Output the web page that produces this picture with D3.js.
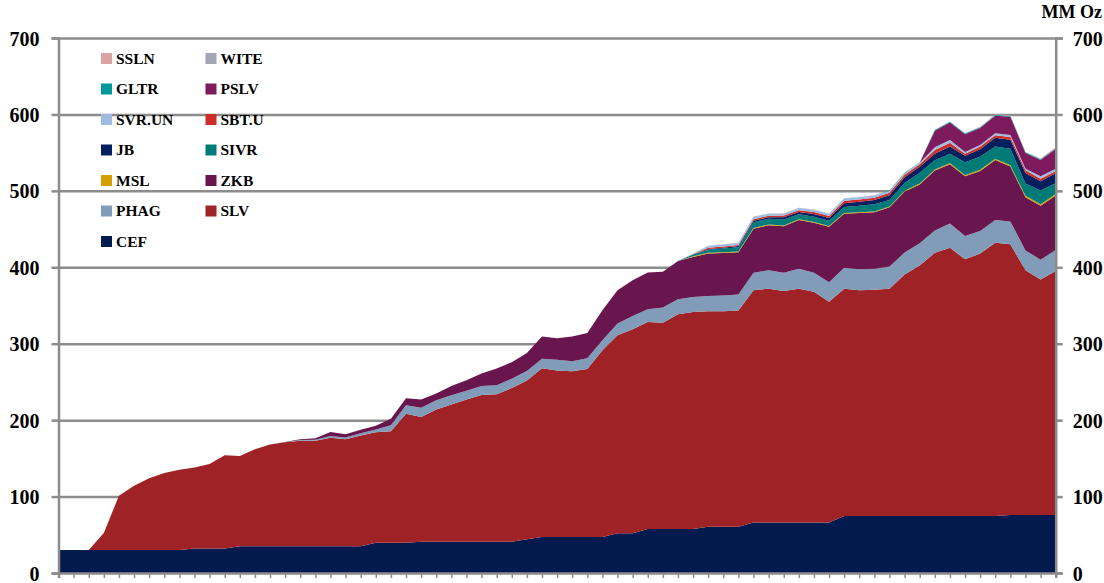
<!DOCTYPE html>
<html>
<head>
<meta charset="utf-8">
<script src="https://cdn.jsdelivr.net/npm/d3@7/dist/d3.min.js"></script>
<style>
  body { margin: 0; background: #fff; }
  svg { display: block; }
  .tick-label { font-family: "Liberation Serif", "Times New Roman", serif; font-weight: bold; font-size: 20px; fill: #000; }
  .legend-label { font-family: "Liberation Serif", "Times New Roman", serif; font-weight: bold; font-size: 15.5px; fill: #000; }
</style>
</head>
<body>
<div id="chart"></div>
<script>
// Silver ETF holdings - stacked area, MM Oz

// Period index along the x axis (no labels shown on the original)
const periods = d3.range(1, 68);

// Series values (MM Oz), bottom of the stack first
const cef = [30,30,30,30,30,30,30,30,30,32,
  32,32,35,35,35,35,35,35,35,35,
  35,39.5,39.5,39.5,41,41,41,41,41,41,
  41,44,47,47,47,47,47,52,52,57.5,
  57.5,57.5,57.5,60.5,60.5,60.5,66,66,66,66,
  66,66,74.5,74.5,74.5,74.5,74.5,74.5,74.5,74.5,
  74.5,74.5,74.5,76,76,76,76];

const slv = [0,0,0,22.5,71,84,94,101,105,106,
  110.5,122,118,127,133,136,138,138,142,140,
  145,144.5,146,169,163,173,179.5,186,192,193,
  201,208,221,218,217,220,244.5,259,267,271,
  270,281,284,282,282,283,304,306,303,306,
  302,289,297.5,295.5,296,297.5,316,328,344.5,351,
  336,343.5,357.5,354,320,308,319];

const phag = [0,0,0,0,0,0,0,0,0,0,
  0,0,0,0,0,0,1,1.5,2.2,2.2,
  3,3.9,7.8,10.9,12.2,12,12,11.3,11.8,11.8,
  12.2,12.2,12.2,14,13,14,13,15.3,17.4,16.6,
  20,19.6,19.6,20,20.5,21,23,24,24,26,
  24.8,25.3,27.5,27.5,27.5,29,28.7,29,29.2,31.8,
  30.5,29.6,30,30,26,26,27.5];

const zkb = [0,0,0,0,0,0,0,0,0,0,
  0,0,0,0,0,0.5,1,1.8,5.2,4.4,
  4.4,4.8,8.5,9.4,10.9,9,12.2,14,16.1,21.8,
  21.5,23.5,29.4,28.3,32.3,33.1,39.2,43.6,46.6,48,
  46.7,50,52.5,55.5,55.7,55.3,57.5,59,60.6,64,
  65.4,72.7,70.4,73.6,74,77.4,80,76.7,78.4,77.6,
  78,78.5,78.4,72,69.5,70.5,71.4];

const msl = [0,0,0,0,0,0,0,0,0,0,
  0,0,0,0,0,0,0,0,0,0,
  0,0,0,0,0,0,0,0,0,0,
  0,0,0,0,0,0,0,0,0,0,
  0,0,1,1,1,1,1,1,1,1,
  1,1,1,1,1,1,1,1.5,1.5,1.5,
  1.5,1.5,1.5,1.5,2,2,2];

const sivr = [0,0,0,0,0,0,0,0,0,0,
  0,0,0,0,0,0,0,0,0,0,
  0,0,0,0,0,0,0,0,0,0,
  0,0,0,0,0,0,0,0,0,0,
  0,0,2,4,5,5.5,7.5,7.5,8,6.5,
  7,7,8,8.5,9.5,8.5,10,14,12,12,
  17,17,16,21.5,16,18,14];

const jb = [0,0,0,0,0,0,0,0,0,0,
  0,0,0,0,0,0,0,0,0,0,
  0,0,0,0,0,0,0,0,0,0,
  0,0,0,0,0,0,0,0,0,0,
  0,0,0,1,1,1.5,2,2,3,3,
  3.5,3.5,5,5,5.5,6.5,7.5,8,8.5,9.5,
  8.5,10,11.5,12,14,12,13];

const sbtu = [0,0,0,0,0,0,0,0,0,0,
  0,0,0,0,0,0,0,0,0,0,
  0,0,0,0,0,0,0,0,0,0,
  0,0,0,0,0,0,0,0,0,0,
  0,0,0.5,1.5,1.5,1.5,2,2,2,2,
  2.5,2.5,3,3,3,3,3.5,3,5,5,
  2.5,3.5,3.5,3.5,3.5,3.5,3];

const svrun = [0,0,0,0,0,0,0,0,0,0,
  0,0,0,0,0,0,0,0,0,0,
  0,0,0,0,0,0,0,0,0,0,
  0,0,0,0,0,0,0,0,0,0,
  0,0.5,1,2.5,2.5,2.5,3,2.5,2.5,3,
  3,3,3,3,3,2.5,2,2,3.5,3.5,
  2.5,2,2.5,2.5,2,3,3];

const pslv = [0,0,0,0,0,0,0,0,0,0,
  0,0,0,0,0,0,0,0,0,0,
  0,0,0,0,0,0,0,0,0,0,
  0,0,0,0,0,0,0,0,0,0,
  0,0,0,0,0,0,0,0,0,0,
  0,0,0,0,0,0,0,0,21.5,23,
  23,22,23,24,20.5,21.5,26];

const gltr = [0,0,0,0,0,0,0,0,0,0,
  0,0,0,0,0,0,0,0,0,0,
  0,0,0,0,0,0,0,0,0,0,
  0,0,0,0,0,0,0,0,0,0,
  0,0,0,0,0,0,0,0,0,0,
  0,0,0,0,0,0.5,0.5,0.5,1,1,
  1,1,1,1,1,1,1];

const wite = [0,0,0,0,0,0,0,0,0,0,
  0,0,0,0,0,0,0,0,0,0,
  0,0,0,0,0,0,0,0,0,0,
  0,0,0,0,0,0,0,0,0,0,
  0,0,0,0.3,0.3,0.3,0.3,0.3,0.3,0.3,
  0.3,0.3,0.3,0.3,0.3,0.3,0.3,0.3,0.3,0.3,
  0.3,0.3,0.3,0.3,0.3,0.3,0.3];

const ssln = [0,0,0,0,0,0,0,0,0,0,
  0,0,0,0,0,0,0,0,0,0,
  0,0,0,0,0,0,0,0,0,0,
  0,0,0,0,0,0,0,0,0,0,
  0,0,0,0,0,0,0,0,0,0,
  0,0,0,0,0,0,0,0,0,0,
  0.5,0.5,0.5,0.5,0.5,0.5,1];

const yTicks = [0, 100, 200, 300, 400, 500, 600, 700];

// Stack order (bottom to top) and colours
const keys = ["CEF", "SLV", "PHAG", "ZKB", "MSL", "SIVR", "JB", "SBT.U", "SVR.UN", "PSLV", "GLTR", "WITE", "SSLN"];
const seriesValues = {
  "CEF": cef, "SLV": slv, "PHAG": phag, "ZKB": zkb, "MSL": msl, "SIVR": sivr, "JB": jb,
  "SBT.U": sbtu, "SVR.UN": svrun, "PSLV": pslv, "GLTR": gltr, "WITE": wite, "SSLN": ssln
};
const colors = {
  "CEF": "#021a4e", "SLV": "#9f2326", "PHAG": "#819cb8", "ZKB": "#69164e", "MSL": "#d4a000",
  "SIVR": "#007b78", "JB": "#03205e", "SBT.U": "#cc2e2e", "SVR.UN": "#9fbde0",
  "PSLV": "#7e1b5f", "GLTR": "#00999a", "WITE": "#a3a6b4", "SSLN": "#d9a3a3"
};
// Legend order as in the original (two columns, row by row)
const legendOrder = ["SSLN", "WITE", "GLTR", "PSLV", "SVR.UN", "SBT.U", "JB", "SIVR", "MSL", "ZKB", "PHAG", "SLV", "CEF"];

// SVG dimensions
const width = 1104;
const height = 583;
const margin = { top: 38, right: 48.3, bottom: 10, left: 58.5 };
const gridColor = "#8c8c8c";

const svg = d3.select("#chart")
  .append("svg")
  .attr("width", width)
  .attr("height", height);

// Scales
const x = d3.scalePoint()
  .domain(periods)
  .range([margin.left, width - margin.right]);

const y = d3.scaleLinear()
  .domain([0, 700])
  .range([height - margin.bottom, margin.top]);

// Table for the stack
const table = periods.map((p, i) => {
  const row = { period: p };
  keys.forEach(k => { row[k] = seriesValues[k][i]; });
  return row;
});

const stacked = d3.stack().keys(keys)(table);

// Grid lines (drawn under the areas)
svg.append("g")
  .attr("class", "grid")
  .attr("transform", `translate(${margin.left},0)`)
  .call(d3.axisLeft(y).tickValues(yTicks.slice(1)).tickSize(-(width - margin.left - margin.right)).tickFormat(""))
  .call(g => g.select(".domain").remove())
  .call(g => g.selectAll("line").attr("stroke", gridColor).attr("stroke-width", 2.5));

// Areas
const area = d3.area()
  .x(d => x(d.data.period))
  .y0(d => y(d[0]))
  .y1(d => y(d[1]));

svg.append("g")
  .selectAll("path")
  .data(stacked)
  .enter()
  .append("path")
  .attr("fill", d => colors[d.key])
  .attr("d", area);

// Left axis
svg.append("g")
  .attr("transform", `translate(${margin.left},0)`)
  .call(d3.axisLeft(y).tickValues(yTicks).tickSize(7).tickPadding(12).tickFormat(d3.format("d")))
  .call(g => g.select(".domain").attr("stroke", gridColor).attr("stroke-width", 2.5))
  .call(g => g.selectAll(".tick line").attr("stroke", gridColor).attr("stroke-width", 2.5))
  .call(g => g.selectAll(".tick text").attr("class", "tick-label").attr("dy", "0.35em"));

// Right axis
svg.append("g")
  .attr("transform", `translate(${width - margin.right},0)`)
  .call(d3.axisRight(y).tickValues(yTicks).tickSize(7).tickPadding(10).tickFormat(d3.format("d")))
  .call(g => g.select(".domain").attr("stroke", gridColor).attr("stroke-width", 2.5))
  .call(g => g.selectAll(".tick line").attr("stroke", gridColor).attr("stroke-width", 2.5))
  .call(g => g.selectAll(".tick text").attr("class", "tick-label").attr("dy", "0.35em"));

// Bottom axis (category ticks, no labels)
svg.append("g")
  .attr("transform", `translate(0,${height - margin.bottom})`)
  .call(d3.axisBottom(x).tickSize(5).tickFormat(""))
  .call(g => g.select(".domain").attr("stroke", gridColor).attr("stroke-width", 2.5))
  .call(g => g.selectAll(".tick line").attr("stroke", gridColor).attr("stroke-width", 1.5));

// Unit label
svg.append("text")
  .attr("class", "tick-label")
  .attr("x", 1102)
  .attr("y", 18)
  .attr("text-anchor", "end")
  .style("font-size", "18px")
  .text("MM Oz");

// Legend
const legend = svg.append("g")
  .selectAll("g")
  .data(legendOrder)
  .enter()
  .append("g")
  .attr("transform", (d, i) => `translate(${i % 2 === 0 ? 101 : 205.5},${58.5 + Math.floor(i / 2) * 30.5})`);

legend.append("rect")
  .attr("x", 0)
  .attr("y", -5.5)
  .attr("width", 11)
  .attr("height", 11)
  .attr("fill", d => colors[d]);

legend.append("text")
  .attr("class", "legend-label")
  .attr("x", 15)
  .attr("y", 0)
  .attr("dy", "0.35em")
  .text(d => d);
</script>
</body>
</html>
